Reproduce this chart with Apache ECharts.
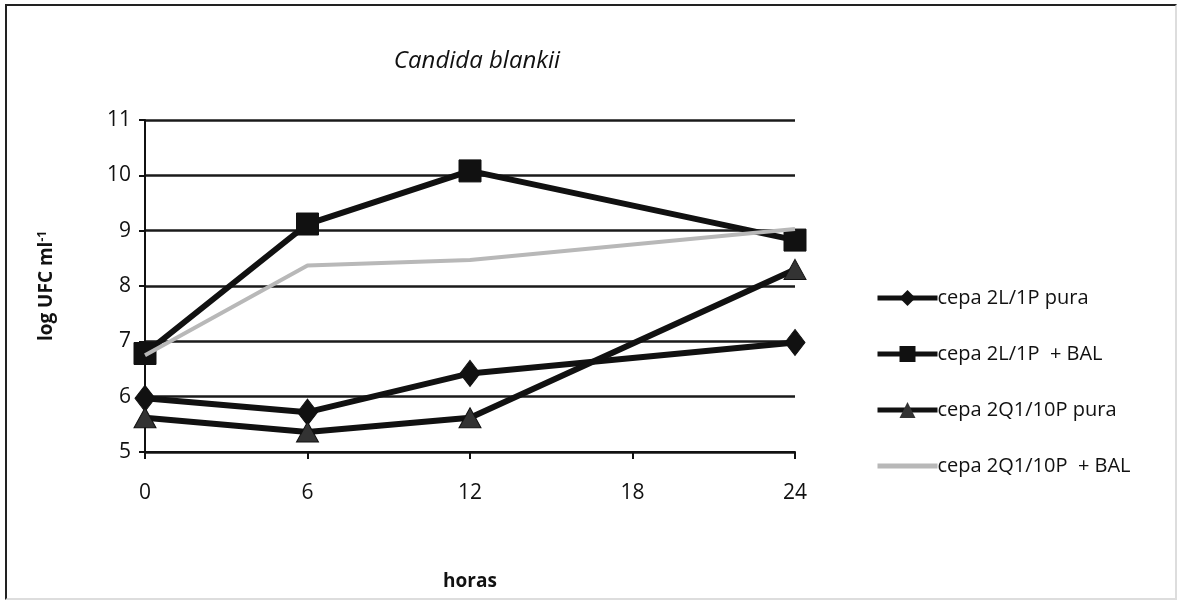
<!DOCTYPE html>
<html>
<head>
  <meta charset="utf-8">
  <title>Candida blankii</title>
  <script src="https://cdn.jsdelivr.net/npm/echarts@6/dist/echarts.min.js"></script>
  <style>
    html, body { margin: 0; padding: 0; background: #fff; }
    #frame {
      position: absolute; left: 5px; top: 4px; width: 1172px; height: 596px;
      border: 2px solid #222; border-bottom-color: #ddd; border-right-color: #ddd;
      box-sizing: border-box;
    }
    #chart { position: absolute; left: 0; top: 0; width: 1180px; height: 610px; }
  </style>
</head>
<body>
  <div id="frame"></div>
  <div id="chart"></div>
  <script>
    // horas
    const hours = [0, 6, 12, 24];
    const xTicks = [0, 6, 12, 18, 24];
    const yTicks = [5, 6, 7, 8, 9, 10, 11];

    // log UFC ml-1
    const cepa2L1Ppura = [5.97, 5.72, 6.42, 6.98];
    const cepa2L1PBAL = [6.78, 9.12, 10.08, 8.83];
    const cepa2Q110Ppura = [5.62, 5.36, 5.62, 8.3];
    const cepa2Q110PBAL = [6.75, 8.37, 8.47, 9.03];

    const names = ['cepa 2L/1P pura', 'cepa 2L/1P  + BAL', 'cepa 2Q1/10P pura', 'cepa 2Q1/10P  + BAL'];

    const pairs = arr => hours.map((h, i) => [h, arr[i]]);
    const font = 'Open Sans';

    const chart = echarts.init(document.getElementById('chart'));
    chart.setOption({
      animation: false,
      textStyle: { fontFamily: font, color: '#111' },
      title: {
        text: 'Candida blankii',
        left: 472, top: 44, textAlign: 'center',
        textStyle: { fontFamily: font, fontStyle: 'italic', fontWeight: 'normal', fontSize: 24, color: '#111' }
      },
      grid: { left: 145, right: 385, top: 120, bottom: 158 },
      legend: {
        orient: 'vertical',
        left: 870, top: 283,
        itemGap: 36,
        itemWidth: 60, itemHeight: 20,
        lineStyle: { width: 5 },
        textStyle: { fontFamily: font, fontSize: 20, color: '#111', padding: [0, 0, 0, -5] },
        data: [names[0], names[1], names[2], { name: names[3], itemStyle: { opacity: 0 } }]
      },
      xAxis: {
        type: 'value', min: 0, max: 24, interval: 6,
        name: 'horas', nameLocation: 'middle', nameGap: 120,
        nameTextStyle: { fontFamily: font, fontSize: 19, fontWeight: 'bold', color: '#111' },
        axisLine: { lineStyle: { color: '#111', width: 2 } },
        axisTick: { show: true, length: 7, lineStyle: { color: '#111', width: 2 } },
        axisLabel: { fontSize: 21, margin: 31, color: '#111',
          formatter: v => xTicks.includes(v) ? String(v) : '' },
        splitLine: { show: false }
      },
      yAxis: {
        type: 'value', min: 5, max: 11, interval: 1,
        name: 'log UFC ml{sup|-1}', nameLocation: 'middle', nameGap: 88, nameRotate: 90,
        nameTextStyle: { fontFamily: font, fontSize: 19, fontWeight: 'bold', color: '#111',
          rich: { sup: { fontSize: 12, fontWeight: 'bold', verticalAlign: 'bottom', padding: [0, 0, 8, 0] } } },
        axisLine: { show: true, lineStyle: { color: '#111', width: 2 } },
        axisTick: { show: true, length: 6, lineStyle: { color: '#111', width: 2 } },
        axisLabel: { fontSize: 21, margin: 14, color: '#111',
          formatter: v => yTicks.includes(v) ? String(v) : '' },
        splitLine: { show: true, lineStyle: { color: '#1a1a1a', width: 2.5 } }
      },
      series: [
        {
          name: names[0], type: 'line', data: pairs(cepa2L1Ppura),
          symbol: 'diamond', symbolSize: [20, 26],
          lineStyle: { color: '#111', width: 6 },
          itemStyle: { color: '#111', borderColor: '#111' }, z: 3
        },
        {
          name: names[1], type: 'line', data: pairs(cepa2L1PBAL),
          symbol: 'rect', symbolSize: 22,
          lineStyle: { color: '#111', width: 6 },
          itemStyle: { color: '#111', borderColor: '#111' }, z: 3
        },
        {
          name: names[2], type: 'line', data: pairs(cepa2Q110Ppura),
          symbol: 'triangle', symbolSize: [22, 20],
          lineStyle: { color: '#111', width: 6 },
          itemStyle: { color: '#333', borderColor: '#111' }, z: 3
        },
        {
          name: names[3], type: 'line', data: pairs(cepa2Q110PBAL),
          symbol: 'none',
          lineStyle: { color: '#b8b8b8', width: 4 },
          itemStyle: { color: '#b8b8b8' }, z: 4
        }
      ]
    });
  </script>
</body>
</html>
